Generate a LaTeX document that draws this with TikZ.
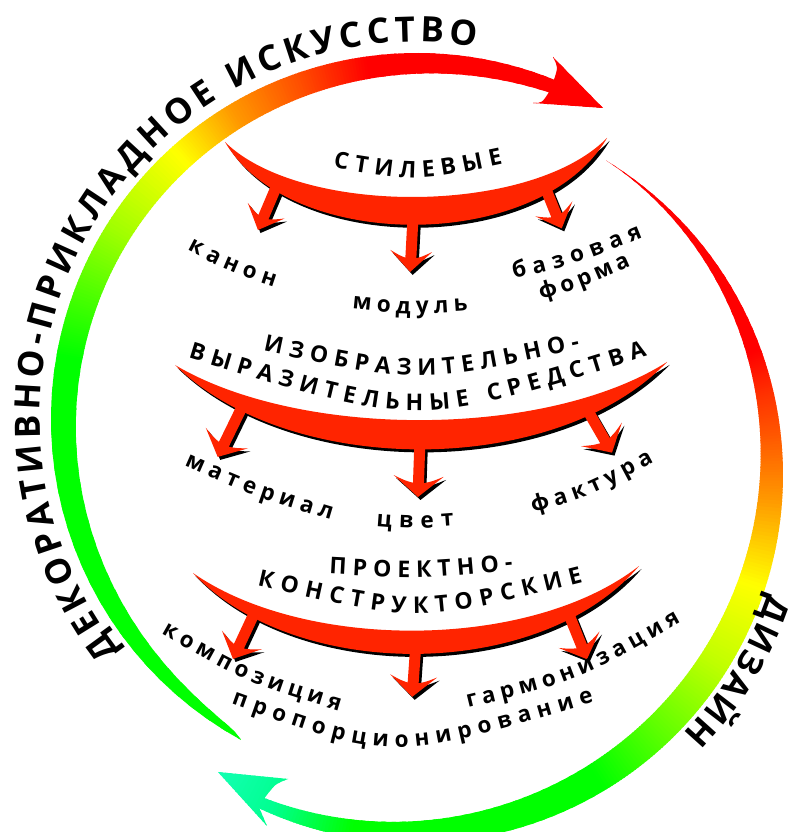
\documentclass[tikz,border=0pt]{standalone}
\usepackage{fontspec}
\setmainfont{Open Sans}
\usetikzlibrary{decorations.text}
\definecolor{gG}{RGB}{0,255,0}
\definecolor{gH}{RGB}{64,255,0}
\definecolor{gI}{RGB}{160,255,0}
\definecolor{yY}{RGB}{255,255,0}
\definecolor{oA}{RGB}{255,153,0}
\definecolor{oB}{RGB}{255,77,0}
\definecolor{rR}{RGB}{255,0,0}
\definecolor{oC}{RGB}{255,51,0}
\definecolor{oD}{RGB}{255,85,0}
\definecolor{gJ}{RGB}{192,255,0}
\definecolor{gK}{RGB}{96,255,0}
\definecolor{gL}{RGB}{0,255,144}
\definecolor{gM}{RGB}{32,255,200}
\definecolor{redc}{RGB}{255,36,0}
\newcommand\cseg[4]{%
  \foreach \i in {1,...,24}{%
    \pgfmathsetmacro\cA{#1+(#2-#1)*(\i-1)/24}%
    \pgfmathsetmacro\cB{#1+(#2-#1)*(\i+0.4)/24}%
    \pgfmathsetmacro\cP{100*(\i-0.5)/24}%
    \fill[#4!\cP!#3] (0,0) -- (\cA:450) -- (\cB:450) -- cycle;
  }}
\newcommand\arr[6]{\fill[#1, shift={(#2,#3)}, rotate=#4] (0,-5.5) -- ({#5-14},-5.5) .. controls ({#5-16},{-#6*0.55}) .. ({#5-21},-#6) -- (#5,0) -- ({#5-21},#6) .. controls ({#5-16},{#6*0.55}) .. ({#5-14},5.5) -- (0,5.5) -- cycle;}
\newcommand\allarrows[3]{%
  \arr{#1}{277.5+#2}{184+#3}{113}{50}{20}
  \arr{#1}{413+#2}{217+#3}{93}{55}{21}
  \arr{#1}{543+#2}{182+#3}{68}{50}{20}
  \arr{#1}{244+#2}{403+#3}{116}{60}{23.5}
  \arr{#1}{420+#2}{439+#3}{92}{58}{25}
  \arr{#1}{584.5+#2}{405+#3}{60}{55}{23.5}
  \arr{#1}{255.8+#2}{610+#3}{115}{54}{22}
  \arr{#1}{416+#2}{642+#3}{94}{55}{23.5}
  \arr{#1}{567.5+#2}{611+#3}{68}{52}{22}}
\def\cresA{(225,142) .. controls (300,216) and (530,216) .. (607,138) .. controls (540,253) and (290,253) .. (225,142) -- cycle}
\def\cresB{(175,365) .. controls (300,439) and (545,439) .. (667,362) .. controls (555,478) and (290,478) .. (175,365) -- cycle}
\def\cresC{(193,573) .. controls (305,651) and (530,651) .. (639,566) .. controls (540,682) and (295,682) .. (193,573) -- cycle}
\newcommand\bigf{\fontsize{35}{40}\selectfont\bfseries}
\newcommand\dizf{\fontsize{34}{40}\selectfont\bfseries}
\newcommand\titf{\fontsize{23}{28}\selectfont\bfseries}
\newcommand\labf{\fontsize{22.5}{26}\selectfont\bfseries}
\tikzset{
  curvetext/.style={decorate, decoration={text along path, text align=fit to path, text={#1}}}
}
\begin{document}
\begin{tikzpicture}[x=1pt,y=1pt]
\useasboundingbox (0,0) rectangle (794,832);
\fill[white] (0,0) rectangle (794,832);
\begin{scope}
\clip (0,0) rectangle (794,832);
\begin{scope}[shift={(0,832)},yscale=-1]
% left big arc
\begin{scope}[shift={(417,419)}]
\begin{scope}
\clip plot[domain=118.8:292, samples=120, variable=\t] (\t:366)
  .. controls (141,-352) .. (136,-362) -- (186,-311) -- (116,-316) .. controls (125,-316) .. (132.1,-327)
  -- plot[domain=292:118.8, samples=120, variable=\t] (\t:{366-27*sqrt(max(sin((\t-118.8)/173.2*165),0.0001))}) -- cycle;
\cseg{115}{190}{gG}{gG}
\cseg{190}{199}{gG}{gH}
\cseg{199}{212}{gH}{gI}
\cseg{212}{228}{gI}{yY}
\cseg{228}{239}{yY}{oA}
\cseg{239}{251}{oA}{oB}
\cseg{251}{262}{oB}{rR}
\cseg{262}{310}{rR}{rR}
\end{scope}
\end{scope}
% right big arc
\begin{scope}[shift={(415,475)}]
\begin{scope}
\clip plot[domain=-58.7:115, samples=120, variable=\t] (\t:368)
  .. controls (-151,342) .. (-148,351) -- (-197,297) -- (-127,304) .. controls (-140,309) .. (-150.8,323.5)
  -- plot[domain=115:-58.7, samples=120, variable=\t] (\t:{368-31*max(sin((\t+58.7)/173.7*153),0.0001)*sqrt(sqrt(max(sin((\t+58.7)/173.7*153),0.0001)))}) -- cycle;
\cseg{-65}{-20}{rR}{rR}
\cseg{-20}{-12.7}{rR}{oC}
\cseg{-12.7}{-6.7}{oC}{oD}
\cseg{-6.7}{4}{oD}{oA}
\cseg{4}{18}{oA}{yY}
\cseg{18}{32}{yY}{gJ}
\cseg{32}{46}{gJ}{gK}
\cseg{46}{59}{gK}{gG}
\cseg{59}{100}{gG}{gG}
\cseg{100}{113}{gG}{gL}
\cseg{113}{130}{gL}{gM}
\end{scope}
\end{scope}
% shadows
\fill[black, shift={(2.5,3)}] \cresA;
\fill[black, shift={(2.5,3)}] \cresB;
\fill[black, shift={(2.5,3)}] \cresC;
\allarrows{black}{2.5}{3}
% red shapes
\fill[redc] \cresA;
\fill[redc] \cresB;
\fill[redc] \cresC;
\allarrows{redc}{0}{0}
\end{scope}
\end{scope}
% texts (y up)
\path[curvetext={|\bigf|ДЕКОРАТИВНО-ПРИКЛАДНОЕ ИСКУССТВО}] ([shift={(417,413)}]218:377) arc[start angle=218, end angle=81, radius=377];
\path[curvetext={|\dizf|ДИЗАЙН}] ([shift={(415,357)}]-18.5:373) arc[start angle=-18.5, end angle=-44, radius=373];
\path[curvetext={|\titf|СТИЛЕВЫЕ}] (333,664) .. controls (418,650) .. (503,668);
\path[curvetext={|\titf|ИЗОБРАЗИТЕЛЬНО-}] (263,481) .. controls (421,448) .. (580,483);
\path[curvetext={|\titf|ВЫРАЗИТЕЛЬНЫЕ СРЕДСТВА}] (188,474) .. controls (418,404) .. (647,476);
\path[curvetext={|\titf|ПРОЕКТНО-}] (329,258) .. controls (421,253) .. (513,262);
\path[curvetext={|\titf|КОНСТРУКТОРСКИЕ}] (257,246) .. controls (420,209) .. (583,250);
\path[curvetext={|\labf|канон}] (187,582) .. controls (229,560) .. (274,545);
\path[curvetext={|\labf|модуль}] (352,523) .. controls (410,517) .. (468,521);
\path[curvetext={|\labf|базовая}] (514,553) .. controls (579,569) .. (643,595);
\path[curvetext={|\labf|форма}] (541,532) .. controls (584,545) .. (631,566);
\path[curvetext={|\labf|материал}] (184,366) .. controls (257,334) .. (331,312);
\path[curvetext={|\labf|цвет}] (376,306) .. controls (415,303) .. (454,306);
\path[curvetext={|\labf|фактура}] (533,319) .. controls (591,336) .. (654,370);
\path[curvetext={|\labf|композиция}] (161,198) .. controls (247,149) .. (339,121);
\path[curvetext={|\labf|пропорционирование}] (231,128) .. controls (393,70) .. (594,130);
\path[curvetext={|\labf|гармонизация}] (468,124) .. controls (575,150) .. (681,210);
\end{tikzpicture}
\end{document}
